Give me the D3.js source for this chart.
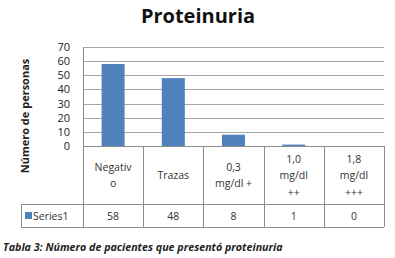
<!DOCTYPE html>
<html>
<head>
<meta charset="utf-8">
<script src="https://cdn.jsdelivr.net/npm/d3@7"></script>
<style>
  body { margin: 0; background: #fff; }
  text { font-family: "Open Sans", "Noto Sans", sans-serif; }
</style>
</head>
<body>
<div id="chart"></div>
<script>
// chart data
const categories = ['Negativo', 'Trazas', '0,3 mg/dl +', '1,0 mg/dl ++', '1,8 mg/dl +++'];
const headerLines = [['Negativ', 'o'], ['Trazas'], ['0,3', 'mg/dl +'], ['1,0', 'mg/dl', '++'], ['1,8', 'mg/dl', '+++']];
const values = [58, 48, 8, 1, 0];
const yTicks = [0, 10, 20, 30, 40, 50, 60, 70];
const seriesName = 'Series1';

const width = 395, height = 258;
const plot = {left: 83, right: 384, top: 47, bottom: 146};
const headerBottom = 204, tableBottom = 227, legendLeft = 21;

const svg = d3.select('#chart').append('svg')
    .attr('width', width)
    .attr('height', height);

const x = d3.scaleBand()
    .domain(categories)
    .range([plot.left, plot.right])
    .paddingInner(0)
    .paddingOuter(0);

const y = d3.scaleLinear()
    .domain([0, 70])
    .range([plot.bottom, plot.top]);

// title
svg.append('text')
    .attr('x', 198)
    .attr('y', 23)
    .attr('text-anchor', 'middle')
    .style('font-size', '20px')
    .style('font-weight', 'bold')
    .attr('fill', '#111')
    .text('Proteinuria');

// gridlines
svg.append('g')
    .selectAll('line')
    .data(yTicks.filter(d => d > 0))
    .join('line')
    .attr('x1', plot.left)
    .attr('x2', plot.right)
    .attr('y1', d => Math.round(y(d)) + 0.5)
    .attr('y2', d => Math.round(y(d)) + 0.5)
    .attr('stroke', '#a6a6a6')
    .attr('stroke-width', 1);

// y axis labels
const yAxis = svg.append('g')
    .attr('transform', `translate(${plot.left},0)`)
    .call(d3.axisLeft(y).tickValues(yTicks).tickSize(0).tickPadding(13));
yAxis.select('.domain').remove();
yAxis.selectAll('text')
    .style('font-size', '11px')
    .style('font-family', '"Open Sans", sans-serif')
    .attr('fill', '#222');

// y axis title
svg.append('text')
    .attr('transform', 'translate(29,116) rotate(-90)')
    .attr('text-anchor', 'middle')
    .style('font-size', '11px')
    .style('font-weight', 'bold')
    .attr('fill', '#222')
    .text('Número de personas');

// bars
const barW = 23;
svg.append('g')
    .selectAll('rect')
    .data(values)
    .join('rect')
    .attr('x', (d, i) => x(categories[i]) + x.bandwidth() / 2 - barW / 2)
    .attr('width', barW)
    .attr('y', d => y(d))
    .attr('height', d => y(0) - y(d))
    .attr('fill', '#4f81bd');

// data table
const border = '#8c8c8c';
const tg = svg.append('g').attr('stroke', border).attr('stroke-width', 1);
// horizontal lines
tg.append('line').attr('x1', plot.left).attr('x2', plot.right).attr('y1', plot.bottom + 0.5).attr('y2', plot.bottom + 0.5);
tg.append('line').attr('x1', legendLeft).attr('x2', plot.right).attr('y1', headerBottom + 0.5).attr('y2', headerBottom + 0.5);
tg.append('line').attr('x1', legendLeft).attr('x2', plot.right).attr('y1', tableBottom + 0.5).attr('y2', tableBottom + 0.5);
// vertical lines
tg.append('line').attr('x1', legendLeft + 0.5).attr('x2', legendLeft + 0.5).attr('y1', headerBottom).attr('y2', tableBottom);
tg.append('line').attr('x1', plot.left + 0.5).attr('x2', plot.left + 0.5).attr('y1', plot.top).attr('y2', tableBottom);
tg.selectAll('.vsep')
    .data(categories)
    .join('line')
    .attr('class', 'vsep')
    .attr('x1', d => Math.round(x(d) + x.bandwidth()) + 0.5)
    .attr('x2', d => Math.round(x(d) + x.bandwidth()) + 0.5)
    .attr('y1', plot.bottom)
    .attr('y2', tableBottom);

// header labels
const lineH = 16.5;
const headerMid = (plot.bottom + headerBottom) / 2 + 4;
categories.forEach((c, i) => {
    const lines = headerLines[i];
    const y0 = headerMid - (lines.length - 1) * lineH / 2;
    svg.append('text')
        .attr('x', x(c) + x.bandwidth() / 2)
        .attr('text-anchor', 'middle')
        .style('font-size', '10.5px')
        .attr('fill', '#333')
        .selectAll('tspan')
        .data(lines)
        .join('tspan')
        .attr('x', x(c) + x.bandwidth() / 2)
        .attr('y', (d, j) => y0 + j * lineH)
        .text(d => d);
});

// data row
svg.append('g')
    .selectAll('text')
    .data(values)
    .join('text')
    .attr('x', (d, i) => x(categories[i]) + x.bandwidth() / 2)
    .attr('y', 220)
    .attr('text-anchor', 'middle')
    .style('font-size', '10.5px')
    .attr('fill', '#333')
    .text(d => d);

// legend key
svg.append('rect')
    .attr('x', legendLeft + 4)
    .attr('y', 212)
    .attr('width', 7)
    .attr('height', 7)
    .attr('fill', '#4f81bd');
svg.append('text')
    .attr('x', legendLeft + 12)
    .attr('y', 220)
    .style('font-size', '10.5px')
    .attr('fill', '#333')
    .text(seriesName);

// caption
svg.append('text')
    .attr('x', 3)
    .attr('y', 251)
    .style('font-size', '10.7px')
    .style('font-weight', 'bold')
    .style('font-style', 'italic')
    .attr('fill', '#222')
    .text('Tabla 3: Número de pacientes que presentó proteinuria');
</script>
</body>
</html>
